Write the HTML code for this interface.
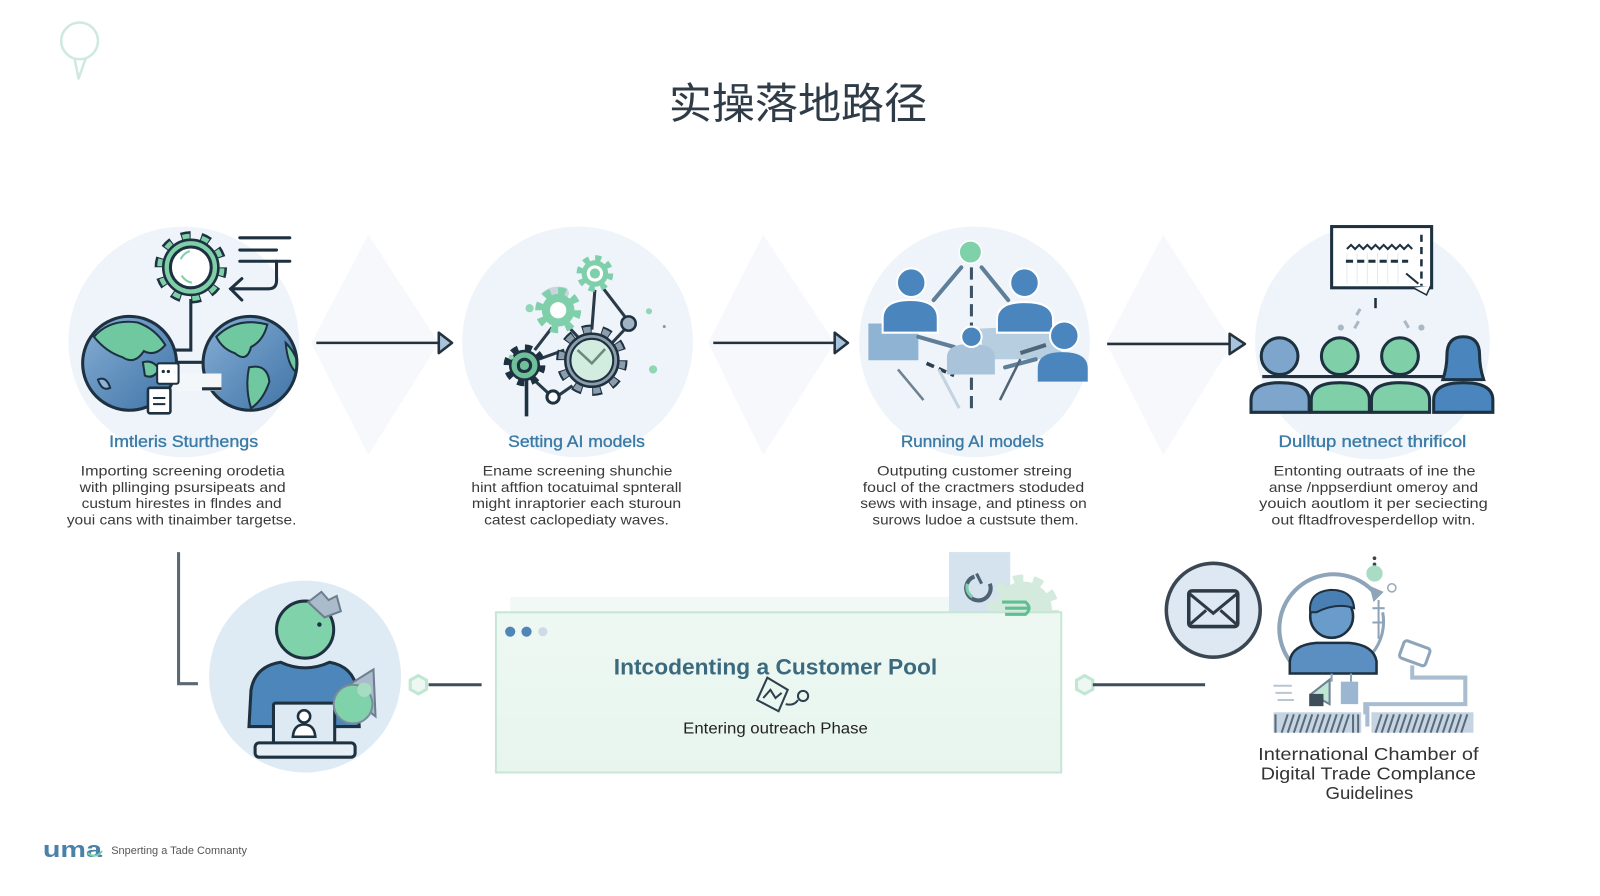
<!DOCTYPE html>
<html>
<head>
<meta charset="utf-8">
<style>
html,body{margin:0;padding:0;background:#ffffff;}
svg{display:block;}
text{font-family:"Liberation Sans","Noto Sans CJK SC",sans-serif;}
</style>
</head>
<body>
<svg width="1600" height="896" viewBox="0 0 1568 878" xmlns="http://www.w3.org/2000/svg">
<defs>
  <linearGradient id="gl" x1="0" y1="0" x2="1" y2="1">
    <stop offset="0" stop-color="#86afd6"/><stop offset="1" stop-color="#3f73a6"/>
  </linearGradient>
  <linearGradient id="bx" x1="0" y1="0" x2="0" y2="1">
    <stop offset="0" stop-color="#eef8f3"/><stop offset="1" stop-color="#e7f5ee"/>
  </linearGradient>
  <clipPath id="cg1"><circle cx="127" cy="356" r="45"/></clipPath>
  <clipPath id="cg2"><circle cx="245" cy="356" r="45"/></clipPath>
</defs>

<rect width="1568" height="878" fill="#ffffff"/>

<!-- top-left pin -->
<circle cx="78" cy="40" r="18" fill="none" stroke="#cfe9e0" stroke-width="2.5"/>
<path d="M73 57 L77 77 L84 57" fill="none" stroke="#cfe9e0" stroke-width="2.5" stroke-linejoin="round"/>

<!-- title -->
<text x="782" y="116" font-size="42" fill="#2f3b46" text-anchor="middle" textLength="253" lengthAdjust="spacingAndGlyphs" font-family="'Liberation Sans','Noto Sans CJK SC',sans-serif">实操落地路径</text>

<!-- background circles -->
<circle cx="180" cy="335" r="113" fill="#eef4fa"/>
<circle cx="566" cy="335" r="113" fill="#eef4fa"/>
<circle cx="955" cy="335" r="113" fill="#eef4fa"/>
<circle cx="1345" cy="335" r="115" fill="#eef4fa"/>

<!-- faint diamonds -->
<polygon points="361,230 430,336 361,446 305,336" fill="#f6f8fb"/>
<polygon points="748,230 818,336 748,446 694,336" fill="#f6f8fb"/>
<polygon points="1140,230 1208,336 1140,446 1084,336" fill="#f6f8fb"/>

<!-- arrows -->
<g stroke="#24323e" stroke-width="2.5" stroke-linejoin="round">
  <line x1="310" y1="336" x2="430" y2="336"/>
  <polygon points="430,326 443,336 430,346" fill="#a8c3dc"/>
  <line x1="699" y1="336" x2="818" y2="336"/>
  <polygon points="818,326 831,336 818,346" fill="#a8c3dc"/>
  <line x1="1085" y1="337" x2="1205" y2="337"/>
  <polygon points="1205,327 1220,337 1205,347" fill="#a8c3dc"/>
</g>

<!-- ICON 1 -->
<g>
  <circle cx="187" cy="262" r="30" fill="none" stroke="#1d3140" stroke-width="11" stroke-dasharray="9 9.85"/>
  <circle cx="187" cy="262" r="30" fill="none" stroke="#7fcfa8" stroke-width="6" stroke-dasharray="7 11.85" stroke-dashoffset="-1"/>
  <circle cx="187" cy="262" r="27" fill="#7fcfa8" stroke="#1d3140" stroke-width="2.5"/>
  <circle cx="187" cy="262" r="20" fill="#ffffff" stroke="#1d3140" stroke-width="3"/>
  <path d="M177 254 Q180 248 186 246" fill="none" stroke="#7fcfa8" stroke-width="2"/>
  <path d="M178 270 Q182 276 188 277" fill="none" stroke="#7fcfa8" stroke-width="2"/>
  <g stroke="#1d3140" stroke-width="3" fill="none" stroke-linecap="round">
    <line x1="235" y1="233" x2="284" y2="233"/>
    <line x1="235" y1="245" x2="271" y2="245"/>
    <line x1="235" y1="256" x2="284" y2="256"/>
    <path d="M271 256 V275 Q271 283 263 283 H226"/>
    <path d="M237 273 L226 283 L237 294"/>
  </g>
  <path d="M187 293 V343 H172" fill="none" stroke="#1d3140" stroke-width="3"/>
  <circle cx="127" cy="356" r="46" fill="url(#gl)"/>
  <g clip-path="url(#cg1)" stroke="#1d3140" stroke-width="2" fill="#6fc89f">
    <path d="M92 330 Q108 312 135 316 Q152 322 162 338 Q152 350 141 344 Q132 358 120 350 Q104 345 92 330 Z"/>
    <path d="M140 355 Q150 352 156 362 Q150 372 142 368 Z"/>
    <path d="M96 372 Q104 368 108 380 Q100 384 96 372 Z" fill="#8db4d8"/>
  </g>
  <circle cx="127" cy="356" r="46" fill="none" stroke="#1d3140" stroke-width="3"/>
  <circle cx="245" cy="356" r="46" fill="url(#gl)"/>
  <g clip-path="url(#cg2)" stroke="#1d3140" stroke-width="2" fill="#6fc89f">
    <path d="M212 330 Q232 310 262 318 Q258 334 246 340 Q242 356 230 346 Q218 342 212 330 Z"/>
    <path d="M244 360 Q262 356 264 374 Q258 392 246 400 Q240 380 244 360 Z"/>
    <path d="M280 336 Q294 350 292 366 Q282 360 280 336 Z"/>
  </g>
  <circle cx="245" cy="356" r="46" fill="none" stroke="#1d3140" stroke-width="3"/>
  <line x1="173" y1="355" x2="199" y2="355" stroke="#1d3140" stroke-width="3"/>
  <rect x="173" y="366" width="44" height="17" fill="#f4f7fa" stroke="none"/>
  <line x1="198" y1="381" x2="217" y2="381" stroke="#1d3140" stroke-width="3"/>
  <rect x="154" y="356" width="21" height="20" rx="2" fill="#ffffff" stroke="#1d3140" stroke-width="2"/>
  <circle cx="160" cy="364" r="1.6" fill="#1d3140"/><circle cx="165" cy="364" r="1.6" fill="#1d3140"/>
  <rect x="145" y="380" width="22" height="25" rx="2" fill="#ffffff" stroke="#1d3140" stroke-width="2.5"/>
  <line x1="150" y1="390" x2="162" y2="390" stroke="#1d3140" stroke-width="2"/>
  <line x1="150" y1="396" x2="162" y2="396" stroke="#1d3140" stroke-width="2"/>
</g>

<!-- ICON 2 gears -->
<g>
  <g stroke="#2a3a48" stroke-width="3" fill="none">
    <line x1="583" y1="284" x2="580" y2="323"/>
    <line x1="590" y1="281" x2="613" y2="311"/>
    <line x1="541" y1="321" x2="524" y2="343"/>
    <line x1="556" y1="319" x2="568" y2="332"/>
    <line x1="528" y1="352" x2="553" y2="343"/>
    <line x1="523" y1="372" x2="537" y2="385"/>
    <line x1="548" y1="387" x2="561" y2="378"/>
    <line x1="612" y1="323" x2="598" y2="338"/>
  </g>
  <path d="M530 288 Q540 278 555 282 Q562 290 550 294 Q538 296 530 288 Z" fill="#c9d4de"/>
  <circle cx="583" cy="268" r="15" fill="none" stroke="#7fd0aa" stroke-width="6" stroke-dasharray="5.9 5.9"/>
  <circle cx="583" cy="268" r="13" fill="#7fd0aa"/>
  <circle cx="583" cy="268" r="8" fill="#ffffff"/>
  <circle cx="583" cy="268" r="5" fill="#7fd0aa"/>
  <circle cx="547" cy="304" r="19" fill="none" stroke="#7fd0aa" stroke-width="7" stroke-dasharray="7.4 7.5"/>
  <circle cx="547" cy="304" r="16" fill="#7fd0aa"/>
  <circle cx="547" cy="304" r="8" fill="#ffffff"/>
  <circle cx="580" cy="353" r="30" fill="none" stroke="#1d3140" stroke-width="10" stroke-dasharray="9 9.85"/>
  <circle cx="580" cy="353" r="30" fill="none" stroke="#8d9dac" stroke-width="6" stroke-dasharray="7 11.85" stroke-dashoffset="-1"/>
  <circle cx="580" cy="353" r="26" fill="#8d9dac" stroke="#1d3140" stroke-width="2.5"/>
  <circle cx="580" cy="353" r="21" fill="#d2ecdf" stroke="#1d3140" stroke-width="2"/>
  <path d="M566 343 L580 356 L593 342" fill="none" stroke="#6a8a7c" stroke-width="2.5"/>
  <circle cx="514" cy="358" r="17" fill="none" stroke="#1d3140" stroke-width="7" stroke-dasharray="6.7 6.7"/>
  <circle cx="514" cy="358" r="14" fill="#6fbf98" stroke="#1d3140" stroke-width="2.5"/>
  <path d="M508 358 A6 6 0 1 1 514 364 Q508 364 508 358" fill="none" stroke="#1d3140" stroke-width="3"/>
  <circle cx="542" cy="389" r="6" fill="#ffffff" stroke="#1d3140" stroke-width="3"/>
  <circle cx="616" cy="317" r="7" fill="#a1b2c2" stroke="#1d3140" stroke-width="2.5"/>
  <line x1="516" y1="372" x2="516" y2="408" stroke="#1d3140" stroke-width="3.5"/>
  <circle cx="519" cy="302" r="4" fill="#8fd6b4"/>
  <circle cx="636" cy="305" r="3" fill="#8fd6b4"/>
  <circle cx="640" cy="362" r="4" fill="#8fd6b4"/>
  <circle cx="501" cy="350" r="2.5" fill="#8fd6b4"/>
  <circle cx="651" cy="320" r="1.5" fill="#8a9aa8"/>
</g>

<!-- ICON 3 people network -->
<g>
  <rect x="851" y="317" width="49" height="36" fill="#8fb3d3"/>
  <path d="M960 322 L1040 318 L1040 352 L965 352 Z" fill="#a9c4db" opacity="0.8"/>
  <g stroke="#5f7f99" stroke-width="4" stroke-linecap="round">
    <line x1="942" y1="262" x2="915" y2="294"/>
    <line x1="962" y1="262" x2="988" y2="294"/>
    <line x1="900" y1="330" x2="935" y2="340"/>
    <line x1="985" y1="360" x2="1015" y2="352"/>
  </g>
  <line x1="952" y1="262" x2="952" y2="405" stroke="#3d5466" stroke-width="3" stroke-dasharray="12 6"/>
  <line x1="908" y1="356" x2="935" y2="368" stroke="#2d3f4f" stroke-width="3.5" stroke-dasharray="8 5"/>
  <line x1="920" y1="362" x2="940" y2="400" stroke="#c5d3df" stroke-width="3"/>
  <line x1="880" y1="362" x2="905" y2="392" stroke="#6d8295" stroke-width="2.5"/>
  <line x1="1000" y1="352" x2="980" y2="392" stroke="#4f6477" stroke-width="2.5"/>
  <circle cx="951" cy="247" r="11" fill="#7fd1aa" stroke="#ffffff" stroke-width="1.5"/>
  <path d="M865 326 V312 Q865 294 892 294 Q919 294 919 312 V326 Z" fill="#4a86bd" stroke="#ffffff" stroke-width="2"/>
  <circle cx="893" cy="277" r="14" fill="#4a86bd" stroke="#ffffff" stroke-width="2"/>
  <path d="M977 326 V313 Q977 296 1004 296 Q1032 296 1032 313 V326 Z" fill="#4a86bd" stroke="#ffffff" stroke-width="2"/>
  <circle cx="1004" cy="277" r="14" fill="#4a86bd" stroke="#ffffff" stroke-width="2"/>
  <path d="M928 367 V350 Q928 337 951 337 Q975 337 975 350 V367 Z" fill="#a9c3db"/>
  <circle cx="952" cy="330" r="10" fill="#4a86bd" stroke="#ffffff" stroke-width="2"/>
  <path d="M1017 374 V361 Q1017 345 1041 345 Q1066 345 1066 361 V374 Z" fill="#4a86bd"/>
  <circle cx="1043" cy="329" r="14" fill="#4a86bd" stroke="#ffffff" stroke-width="2"/>
  <line x1="1000" y1="346" x2="1025" y2="338" stroke="#4f6477" stroke-width="4"/>
</g>

<!-- ICON 4 audience -->
<g>
  <rect x="1305" y="222" width="98" height="60" fill="#ffffff" stroke="#1d3140" stroke-width="3"/>
  <g stroke="#e3eaf0" stroke-width="1">
    <line x1="1320" y1="248" x2="1320" y2="278"/><line x1="1330" y1="248" x2="1330" y2="278"/>
    <line x1="1340" y1="248" x2="1340" y2="278"/><line x1="1350" y1="248" x2="1350" y2="278"/>
    <line x1="1360" y1="248" x2="1360" y2="278"/><line x1="1370" y1="248" x2="1370" y2="278"/>
  </g>
  <path d="M1320 244 l4 -4 l4 4 l4 -4 l4 4 l4 -4 l4 4 l4 -4 l4 4 l4 -4 l4 4 l4 -4 l4 4 l4 -4 l4 4 l4 -4 l4 4" fill="none" stroke="#1d3140" stroke-width="2"/>
  <line x1="1319" y1="256" x2="1380" y2="256" stroke="#1d3140" stroke-width="3" stroke-dasharray="7 4"/>
  <line x1="1393" y1="230" x2="1393" y2="280" stroke="#1d3140" stroke-width="2.5" stroke-dasharray="7 5"/>
  <line x1="1378" y1="268" x2="1390" y2="278" stroke="#1d3140" stroke-width="2"/>
  <path d="M1385 282 L1398 289 L1402 280" fill="#ffffff" stroke="#1d3140" stroke-width="1.5"/>
  <line x1="1348" y1="292" x2="1348" y2="302" stroke="#1d3140" stroke-width="2.5"/>
  <g fill="#aab8c4">
    <circle cx="1314" cy="321" r="3"/><rect x="1328" y="314" width="3" height="8" transform="rotate(30 1329 318)"/>
    <rect x="1377" y="314" width="3" height="8" transform="rotate(-30 1378 318)"/><circle cx="1393" cy="321" r="3"/>
    <rect x="1330" y="302" width="3" height="7" transform="rotate(30 1331 305)"/>
  </g>
  <g stroke="#1d3140" stroke-width="3">
    <path d="M1226 404 V392 Q1226 375 1254 375 Q1283 375 1283 392 V404 Z" fill="#7ea6cc"/>
    <path d="M1285 404 V392 Q1285 375 1313 375 Q1342 375 1342 392 V404 Z" fill="#7fd0a8"/>
    <path d="M1344 404 V392 Q1344 375 1372 375 Q1401 375 1401 392 V404 Z" fill="#7fd0a8"/>
    <path d="M1405 404 V392 Q1405 375 1434 375 Q1463 375 1463 392 V404 Z" fill="#4a86bd"/>
  </g>
  <line x1="1237" y1="369" x2="1414" y2="369" stroke="#1d3140" stroke-width="3"/>
  <g stroke="#1d3140" stroke-width="3">
    <circle cx="1254" cy="349" r="18" fill="#7ea6cc"/>
    <circle cx="1313" cy="349" r="18" fill="#7fd0a8"/>
    <circle cx="1372" cy="349" r="18" fill="#7fd0a8"/>
    <path d="M1414 372 Q1418 360 1418 348 Q1418 330 1434 330 Q1450 330 1450 348 Q1450 360 1454 372 Z" fill="#4a86bd"/>
  </g>
</g>

<!-- headings -->
<g font-size="16" fill="#3b7ba6" stroke="#3b7ba6" stroke-width="0.35" text-anchor="middle">
  <text x="180" y="438" textLength="146" lengthAdjust="spacingAndGlyphs">Imtleris Sturthengs</text>
  <text x="565" y="438" textLength="134" lengthAdjust="spacingAndGlyphs">Setting AI models</text>
  <text x="953" y="438" textLength="140" lengthAdjust="spacingAndGlyphs">Running AI models</text>
  <text x="1345" y="438" textLength="184" lengthAdjust="spacingAndGlyphs">Dulltup netnect thrificol</text>
</g>

<!-- descriptions -->
<g font-size="14" fill="#3a3a3a" text-anchor="middle">
  <text x="179" y="466" textLength="200" lengthAdjust="spacingAndGlyphs">Importing screening orodetia</text>
  <text x="179" y="482" textLength="202" lengthAdjust="spacingAndGlyphs">with pllinging psursipeats and</text>
  <text x="178" y="498" textLength="196" lengthAdjust="spacingAndGlyphs">custum hirestes in flndes and</text>
  <text x="178" y="514" textLength="225" lengthAdjust="spacingAndGlyphs">youi cans with tinaimber targetse.</text>

  <text x="566" y="466" textLength="186" lengthAdjust="spacingAndGlyphs">Ename screening shunchie</text>
  <text x="565" y="482" textLength="206" lengthAdjust="spacingAndGlyphs">hint aftfion tocatuimal spnterall</text>
  <text x="565" y="498" textLength="205" lengthAdjust="spacingAndGlyphs">might inraptorier each sturoun</text>
  <text x="565" y="514" textLength="181" lengthAdjust="spacingAndGlyphs">catest caclopediaty waves.</text>

  <text x="955" y="466" textLength="191" lengthAdjust="spacingAndGlyphs">Outputing customer streing</text>
  <text x="954" y="482" textLength="217" lengthAdjust="spacingAndGlyphs">foucl of the cractmers stoduded</text>
  <text x="954" y="498" textLength="222" lengthAdjust="spacingAndGlyphs">sews with insage, and ptiness on</text>
  <text x="956" y="514" textLength="202" lengthAdjust="spacingAndGlyphs">surows ludoe a custsute them.</text>

  <text x="1347" y="466" textLength="198" lengthAdjust="spacingAndGlyphs">Entonting outraats of ine the</text>
  <text x="1346" y="482" textLength="205" lengthAdjust="spacingAndGlyphs">anse /nppserdiunt omeroy and</text>
  <text x="1346" y="498" textLength="224" lengthAdjust="spacingAndGlyphs">youich aoutlom it per seciecting</text>
  <text x="1346" y="514" textLength="200" lengthAdjust="spacingAndGlyphs">out fltadfrovesperdellop witn.</text>
</g>

<!-- bottom-left connector -->
<path d="M175 541 V670 H194" fill="none" stroke="#5b6874" stroke-width="3"/>

<!-- bottom person -->
<circle cx="299" cy="663" r="94" fill="#deeaf4"/>
<path d="M244 712 L246 676 Q250 653 275 649 Q299 660 323 649 Q346 653 350 676 L352 712 Z" fill="#4d86bb" stroke="#1d3140" stroke-width="3"/>
<circle cx="299" cy="617" r="28" fill="#7fd2a9" stroke="#1d3140" stroke-width="3"/>
<circle cx="313" cy="612" r="2.2" fill="#1d3140"/>
<polygon points="302,590 315,580 322,588 330,584 334,599 318,605" fill="#aabccc" stroke="#6d7f8f" stroke-width="2"/>
<rect x="268" y="689" width="60" height="40" rx="2" fill="#dde9f3" stroke="#1d3140" stroke-width="3"/>
<rect x="250" y="728" width="98" height="14" rx="4" fill="#e7eff6" stroke="#1d3140" stroke-width="3"/>
<circle cx="298" cy="702" r="6" fill="#ffffff" stroke="#1d3140" stroke-width="2.5"/>
<path d="M287 722 Q288 710 298 710 Q308 710 309 722 Z" fill="#ffffff" stroke="#1d3140" stroke-width="2.5"/>
<polygon points="334,676 366,656 368,702" fill="#aabccc" stroke="#6d7f8f" stroke-width="2"/>
<circle cx="346" cy="690" r="19" fill="#7fd2a9" stroke="#7a8c9a" stroke-width="2"/>
<circle cx="357" cy="676" r="7" fill="#a5dcc2"/>

<!-- left node & line -->
<polygon points="410,662 418,666.5 418,675.5 410,680 402,675.5 402,666.5" fill="#eef8f3" stroke="#c2e6d4" stroke-width="3"/>
<line x1="420" y1="671" x2="472" y2="671" stroke="#3d4d5a" stroke-width="3"/>

<!-- box -->
<rect x="500" y="585" width="500" height="16" fill="#f2f8f5"/>
<rect x="930" y="541" width="60" height="59" fill="#d5e3ef"/>
<circle cx="1003" cy="598" r="30" fill="none" stroke="#d3eadc" stroke-width="10" stroke-dasharray="9.4 9.4"/>
<circle cx="1003" cy="598" r="28" fill="#d3eadc"/>
<rect x="486" y="600" width="554" height="157" fill="url(#bx)" stroke="#c8e6d6" stroke-width="2"/>
<path d="M955 565 A12 12 0 1 0 970 572" fill="none" stroke="#4e6373" stroke-width="4"/>
<path d="M957 562 L962 572" stroke="#4e6373" stroke-width="3"/>
<path d="M948 572 Q946 580 953 585" fill="none" stroke="#7fd0aa" stroke-width="3"/>
<path d="M982 590 H1005 Q1012 596 1005 602 H985 M985 596 H1008" fill="none" stroke="#5fbf92" stroke-width="3"/>
<circle cx="500" cy="619" r="5" fill="#4f86b8"/>
<circle cx="516" cy="619" r="5" fill="#4f86b8"/>
<circle cx="532" cy="619" r="4.5" fill="#ccdbe7"/>
<text x="760" y="661" font-size="22" font-weight="bold" fill="#3b6a7f" text-anchor="middle" textLength="317" lengthAdjust="spacingAndGlyphs">Intcodenting a Customer Pool</text>
<g fill="none" stroke="#2e3f4d" stroke-width="2">
  <path d="M752 664 L772 676 L763 697 L742 686 Z"/>
  <path d="M748 684 L755 676 L760 684 L766 679"/>
  <circle cx="787" cy="682" r="5"/>
  <path d="M770 690 Q778 692 782 686"/>
</g>
<text x="760" y="719" font-size="15.5" fill="#222222" text-anchor="middle" textLength="181" lengthAdjust="spacingAndGlyphs">Entering outreach Phase</text>

<!-- right node & line -->
<polygon points="1063,662 1071,666.5 1071,675.5 1063,680 1055,675.5 1055,666.5" fill="#eef8f3" stroke="#c2e6d4" stroke-width="3"/>
<line x1="1071" y1="671" x2="1181" y2="671" stroke="#3d4d5a" stroke-width="3"/>

<!-- envelope -->
<circle cx="1189" cy="598" r="46" fill="#dde8f2" stroke="#3a4753" stroke-width="3.5"/>
<rect x="1165" y="579" width="48" height="35" rx="3" fill="none" stroke="#2d3a45" stroke-width="3.5"/>
<path d="M1166 582 L1189 601 L1212 582 M1166 612 L1182 598 M1212 612 L1196 598" fill="none" stroke="#2d3a45" stroke-width="3"/>

<!-- right person with cycle -->
<path d="M1266 650 A49 49 0 1 1 1348 582" fill="none" stroke="#8ea4b8" stroke-width="4"/>
<polygon points="1342,574 1356,580 1346,590" fill="#8ea4b8"/>
<path d="M1355 600 A49 49 0 0 1 1345 640" fill="none" stroke="#8ea4b8" stroke-width="3"/>
<line x1="1351" y1="588" x2="1351" y2="626" stroke="#8ea4b8" stroke-width="2"/>
<line x1="1345" y1="596" x2="1357" y2="596" stroke="#8ea4b8" stroke-width="2"/>
<line x1="1345" y1="610" x2="1357" y2="610" stroke="#8ea4b8" stroke-width="2"/>
<circle cx="1347" cy="547" r="1.8" fill="#3a4753"/>
<circle cx="1347" cy="553" r="1.8" fill="#3a4753"/>
<circle cx="1347" cy="562" r="8" fill="#a8dcc4"/>
<circle cx="1364" cy="576" r="4" fill="none" stroke="#9aaab8" stroke-width="1.5"/>
<path d="M1264 660 V648 Q1266 632 1290 630 L1322 630 Q1346 632 1349 648 V660 Z" fill="#5b8fc2" stroke="#1d3140" stroke-width="2.5"/>
<circle cx="1305" cy="604" r="21" fill="#6a9ccb" stroke="#1d3140" stroke-width="2.5"/>
<path d="M1284 600 Q1282 580 1304 578 Q1326 578 1327 596 Q1310 590 1290 600 Z" fill="#4a7fb3" stroke="#1d3140" stroke-width="2"/>
<rect x="1373" y="631" width="27" height="18" rx="3" transform="rotate(20 1386 640)" fill="#ffffff" stroke="#8ea4b8" stroke-width="3"/>
<path d="M1384 652 V664 H1436 V690 H1338 V700" fill="none" stroke="#a9bdd0" stroke-width="4"/>
<path d="M1248 672 H1266 M1250 679 H1266 M1252 686 H1268" stroke="#b9c6d2" stroke-width="2"/>
<polygon points="1285,680 1303,666 1303,690" fill="#bfe6d3" stroke="#6d8295" stroke-width="2"/>
<rect x="1283" y="680" width="14" height="12" fill="#3d4d5a"/>
<rect x="1314" y="668" width="17" height="22" fill="#9ab6d0"/>
<line x1="1305" y1="660" x2="1305" y2="668" stroke="#8ea4b8" stroke-width="2"/>
<line x1="1324" y1="660" x2="1324" y2="668" stroke="#8ea4b8" stroke-width="2"/>
<rect x="1248" y="698" width="86" height="20" fill="#c6d4e2"/>
<rect x="1344" y="698" width="100" height="20" fill="#c6d4e2"/>
<g stroke="#5a6b7b" stroke-width="2">
  <path d="M1250 718 V700 M1256 718 L1262 700 M1262 718 L1268 700 M1268 718 L1274 700 M1274 718 L1280 700 M1280 718 L1286 700 M1286 718 L1292 700 M1292 718 L1298 700 M1298 718 L1304 700 M1304 718 L1310 700 M1310 718 L1316 700 M1316 718 L1322 700 M1326 718 V700 M1331 718 V700"/>
  <path d="M1348 718 L1354 700 M1354 718 L1360 700 M1360 718 L1366 700 M1366 718 L1372 700 M1372 718 L1378 700 M1378 718 L1384 700 M1384 718 L1390 700 M1390 718 L1396 700 M1396 718 L1402 700 M1402 718 L1408 700 M1408 718 L1414 700 M1414 718 L1420 700 M1420 718 L1426 700 M1426 718 L1432 700 M1432 718 L1438 700"/>
</g>
<path d="M1340 712 V692" stroke="#a9bdd0" stroke-width="4"/>

<g font-size="17" fill="#333333" text-anchor="middle">
  <text x="1341" y="745" textLength="216" lengthAdjust="spacingAndGlyphs">International Chamber of</text>
  <text x="1341" y="764" textLength="211" lengthAdjust="spacingAndGlyphs">Digital Trade Complance</text>
  <text x="1342" y="783" textLength="86" lengthAdjust="spacingAndGlyphs">Guidelines</text>
</g>

<!-- footer -->
<text x="42" y="840" font-size="22" font-weight="bold" fill="#4b81a8" textLength="58" lengthAdjust="spacingAndGlyphs">uma</text>
<path d="M86 836 Q94 842 100 834" fill="none" stroke="#7fd0aa" stroke-width="2"/>
<text x="109" y="837" font-size="10.5" fill="#555555" textLength="133" lengthAdjust="spacingAndGlyphs">Snperting a Tade Comnanty</text>
</svg>
</body>
</html>
